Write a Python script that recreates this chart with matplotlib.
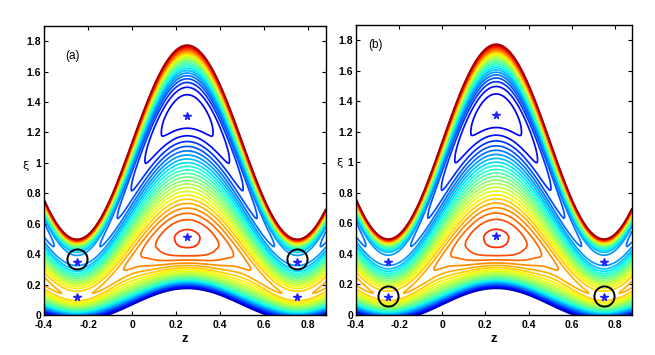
import numpy as np
import matplotlib
matplotlib.use("Agg")
import matplotlib.pyplot as plt

# ---------------- data ----------------
z_lim = (-0.4, 0.88)
xi_lim = (0.0, 1.9)
x_ticks = [-0.4, -0.2, 0, 0.2, 0.4, 0.6, 0.8]
x_ticklabels = ["-0.4", "-0.2", "0", "0.2", "0.4", "0.6", "0.8"]
y_ticks = [0, 0.2, 0.4, 0.6, 0.8, 1, 1.2, 1.4, 1.6, 1.8]
y_ticklabels = ["0", "0.2", "0.4", "0.6", "0.8", "1", "1.2", "1.4", "1.6", "1.8"]
panel_labels = ["(a)", "(b)"]

# domain boundaries  xi = mean + amp*cos(2*pi*(z - z_crest))
z_crest = 0.25
upper_mean, upper_amp = 1.14, 0.64
lower_mean, lower_amp = 0.063, 0.107

# fixed points (z, xi)
o_z = [0.25, 0.25]
o_xi = [1.31, 0.515]          # upper island centre, lower island centre
x_z = [-0.25, 0.75, -0.25, 0.75]
x_xi = [0.35, 0.35, 0.12, 0.12]

# normalised Hamiltonian values at the fixed points (colour scale 0..1)
h_upper_O, h_lower_O = 0.08, 0.87
h_upper_X, h_lower_X = 0.26, 0.72

# circled points per panel
circle_z = [[-0.25, 0.75], [-0.25, 0.75]]
circle_xi = [[0.365, 0.365], [0.125, 0.125]]

n_levels = 28
steep_crest = [3.0, 3.0]      # (bottom edge, top edge) through the O-points
steep_trough = [1.2, 3.0]     # (bottom edge, top edge) through the X-points

# ---------------- construct field ----------------
def upper(z):
    return upper_mean + upper_amp * np.cos(2 * np.pi * (z - z_crest))

def lower(z):
    return lower_mean + lower_amp * np.cos(2 * np.pi * (z - z_crest))

def u_at(z, xi):
    return (xi - lower(z)) / (upper(z) - lower(z))

def hermite(s, ns, nh, nd):
    out = np.zeros_like(s)
    for i in range(len(ns) - 1):
        a, b = ns[i], ns[i + 1]
        m = (s >= a) & (s <= b)
        t = (s[m] - a) / (b - a)
        d = b - a
        out[m] = ((2 * t**3 - 3 * t**2 + 1) * nh[i] + (t**3 - 2 * t**2 + t) * d * nd[i]
                  + (-2 * t**3 + 3 * t**2) * nh[i + 1] + (t**3 - t**2) * d * nd[i + 1])
    return out

s_lo_O = u_at(o_z[1], o_xi[1])
s_up_O = u_at(o_z[0], o_xi[0])
s_lo_X = u_at(x_z[2], x_xi[2])
s_up_X = u_at(x_z[0], x_xi[0])

def profile(s, s1, h1, s2, h2, steep):
    ns = [0.0, s1, s2, 1.0]
    nh = [0.0, h1, h2, 1.0]
    nd = [steep[0] * h1 / s1, 0.0, 0.0, steep[1] * (1 - h2) / (1 - s2)]
    return hermite(s, ns, nh, nd)

zg = np.linspace(z_lim[0], z_lim[1], 700)
sg = np.linspace(0, 1, 1000)
Z, S = np.meshgrid(zg, sg)
XI = lower(Z) + (upper(Z) - lower(Z)) * S
G0 = profile(S, s_lo_O, h_lower_O, s_up_O, h_upper_O, steep_crest)
Gp = profile(S, s_lo_X, h_lower_X, s_up_X, h_upper_X, steep_trough)
P = 0.5 * (G0 + Gp)
Q = 0.5 * (G0 - Gp)
H = P + Q * np.cos(2 * np.pi * (Z - z_crest))

levels = np.linspace(0, 1, n_levels + 2)[1:-1]

# ---------------- figure ----------------
plt.rcParams["font.family"] = ["Liberation Sans", "DejaVu Sans"]
fig = plt.figure(figsize=(6.55, 3.55), dpi=100)
positions = [[44 / 655, 40 / 355, 282 / 655, 289 / 355],
             [356 / 655, 40 / 355, 276 / 655, 290 / 355]]
label_pos = [(-0.27, 1.70), (-0.31, 1.77)]
ylabel_pos = [(-0.064, 0.515), (-0.058, 0.525)]

for k in range(2):
    ax = fig.add_axes(positions[k])
    ax.contour(Z, XI, H, levels=levels, cmap="jet", vmin=0, vmax=1, linewidths=1.25)
    ax.plot(o_z, o_xi, linestyle="none", marker="*", color="#1f1fff", ms=5.5)
    ax.plot(x_z, x_xi, linestyle="none", marker="*", color="#1f1fff", ms=5.5)
    ax.plot(circle_z[k], circle_xi[k], linestyle="none", marker="o", mfc="none",
            mec="black", mew=1.4, ms=14.5)
    ax.set_xlim(*z_lim)
    ax.set_ylim(*xi_lim)
    ax.set_xticks(x_ticks)
    ax.set_xticklabels(x_ticklabels)
    ax.set_yticks(y_ticks)
    ax.set_yticklabels(y_ticklabels)
    ax.tick_params(direction="in", top=True, right=True, length=3, width=0.8,
                   labelsize=7.5, pad=2)
    ax.tick_params(axis="x", pad=3.5)
    for lab in ax.get_xticklabels() + ax.get_yticklabels():
        lab.set_fontweight("bold")
    for sp in ax.spines.values():
        sp.set_linewidth(1.0)
    ax.set_xlabel("z", fontsize=9.5, fontweight="bold", labelpad=2)
    ax.set_ylabel("ξ", fontsize=8, rotation=0, va="center", ha="center",
                  family=["DejaVu Sans"])
    ax.yaxis.set_label_coords(*ylabel_pos[k])
    ax.text(label_pos[k][0], label_pos[k][1], panel_labels[k], fontsize=8.5,
            ha="center", va="center")

fig.savefig("out.png", dpi=100)
